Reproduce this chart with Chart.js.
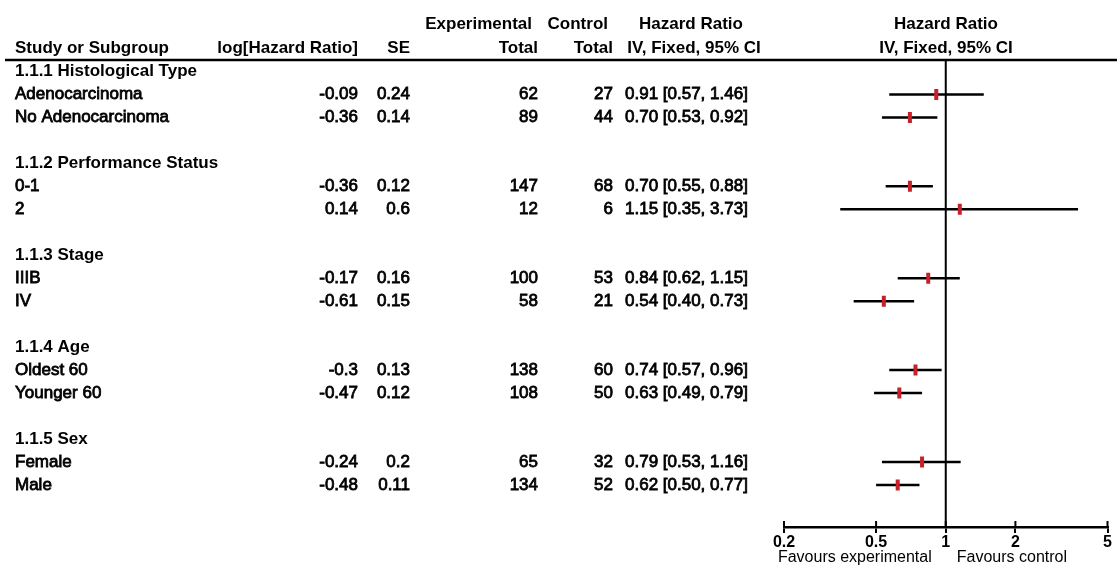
<!DOCTYPE html>
<html lang="en">
<head>
  <title>Hazard Ratio forest plot</title>
  <script src="https://cdn.jsdelivr.net/npm/chart.js"></script>
  <style>
    body { margin: 0; background: #fff; }
    .chart-container { position: relative; width: 1117px; height: 568px; }
  </style>
</head>
<body>
  <div class="chart-container">
    <canvas id="forestChart"></canvas>
  </div>

  <script>
    // Data
    const groups = ['1.1.1 Histological Type', '1.1.2 Performance Status', '1.1.3 Stage', '1.1.4 Age', '1.1.5 Sex'];
    const subgroups = ['Adenocarcinoma', 'No Adenocarcinoma', '0-1', '2', 'IIIB', 'IV', 'Oldest 60', 'Younger 60', 'Female', 'Male'];
    const groupOf = [0, 0, 1, 1, 2, 2, 3, 3, 4, 4];
    const logHR = [-0.09, -0.36, -0.36, 0.14, -0.17, -0.61, -0.3, -0.47, -0.24, -0.48];
    const se = [0.24, 0.14, 0.12, 0.6, 0.16, 0.15, 0.13, 0.12, 0.2, 0.11];
    const expTotal = [62, 89, 147, 12, 100, 58, 138, 108, 65, 134];
    const ctrlTotal = [27, 44, 68, 6, 53, 21, 60, 50, 32, 52];
    const hr = [0.91, 0.70, 0.70, 1.15, 0.84, 0.54, 0.74, 0.63, 0.79, 0.62];
    const ciLow = [0.57, 0.53, 0.55, 0.35, 0.62, 0.40, 0.57, 0.49, 0.53, 0.50];
    const ciHigh = [1.46, 0.92, 0.88, 3.73, 1.15, 0.73, 0.96, 0.79, 1.16, 0.77];
    const xTicks = [0.2, 0.5, 1, 2, 5];

    // row index of each line in the table (group header, then its subgroups, then a blank line)
    const subRow = subgroups.map((s, i) => groupOf[i] * 4 + 1 + (i > 0 && groupOf[i - 1] === groupOf[i] ? 1 : 0));
    const groupRow = groups.map((g, i) => i * 4);

    const BOLD = 'bold 17px "Liberation Sans", Arial, sans-serif';
    const NORMAL = '17px "Liberation Sans", Arial, sans-serif';
    const FAV = '16px "Liberation Sans", Arial, sans-serif';

    function txt(ctx, s, x, y, align, font) {
      ctx.font = font;
      ctx.textAlign = align;
      ctx.fillText(s, x, y);
      if (font === NORMAL) {
        // the scanned original is heavier than a plain regular face
        ctx.lineWidth = 0.8;
        ctx.strokeText(s, x, y);
      }
    }

    const tablePlugin = {
      id: 'forestTable',
      beforeDatasetsDraw(chart) {
        const ctx = chart.ctx;
        const xs = chart.scales.x;
        const area = chart.chartArea;
        ctx.save();
        ctx.strokeStyle = '#000';
        // header rule
        ctx.lineWidth = 2.5;
        ctx.beginPath();
        ctx.moveTo(5, area.top);
        ctx.lineTo(chart.width, area.top);
        ctx.stroke();
        // line of no effect
        const x1 = xs.getPixelForValue(1);
        ctx.lineWidth = 2;
        ctx.beginPath();
        ctx.moveTo(x1, area.top);
        ctx.lineTo(x1, area.bottom);
        ctx.stroke();
        // upper half of the axis ticks
        xTicks.forEach(v => {
          const px = xs.getPixelForValue(v);
          ctx.beginPath();
          ctx.moveTo(px, area.bottom - 6);
          ctx.lineTo(px, area.bottom);
          ctx.stroke();
        });
        ctx.restore();
      },
      afterDraw(chart) {
        const ctx = chart.ctx;
        const ys = chart.scales.y;
        const xs = chart.scales.x;
        ctx.save();
        ctx.fillStyle = '#000';
        ctx.strokeStyle = '#000';
        ctx.textBaseline = 'middle';

        // column headers
        txt(ctx, 'Experimental', 532, 24, 'right', BOLD);
        txt(ctx, 'Control', 608, 24, 'right', BOLD);
        txt(ctx, 'Hazard Ratio', 691, 24, 'center', BOLD);
        txt(ctx, 'Hazard Ratio', 946, 24, 'center', BOLD);
        txt(ctx, 'Study or Subgroup', 15, 48, 'left', BOLD);
        txt(ctx, 'log[Hazard Ratio]', 358, 48, 'right', BOLD);
        txt(ctx, 'SE', 410, 48, 'right', BOLD);
        txt(ctx, 'Total', 538, 48, 'right', BOLD);
        txt(ctx, 'Total', 613, 48, 'right', BOLD);
        txt(ctx, 'IV, Fixed, 95% CI', 694, 48, 'center', BOLD);
        txt(ctx, 'IV, Fixed, 95% CI', 946, 48, 'center', BOLD);

        groups.forEach((g, i) => {
          txt(ctx, g, 15, ys.getPixelForValue(groupRow[i]), 'left', BOLD);
        });

        subgroups.forEach((s, i) => {
          const y = ys.getPixelForValue(subRow[i]);
          txt(ctx, s, 15, y, 'left', NORMAL);
          txt(ctx, String(logHR[i]), 358, y, 'right', NORMAL);
          txt(ctx, String(se[i]), 410, y, 'right', NORMAL);
          txt(ctx, String(expTotal[i]), 538, y, 'right', NORMAL);
          txt(ctx, String(ctrlTotal[i]), 613, y, 'right', NORMAL);
          const ci = hr[i].toFixed(2) + ' [' + ciLow[i].toFixed(2) + ', ' + ciHigh[i].toFixed(2) + ']';
          txt(ctx, ci, 625, y, 'left', NORMAL);
        });

        // favours labels
        const x1 = xs.getPixelForValue(1);
        txt(ctx, 'Favours experimental', x1 - 14, 558, 'right', FAV);
        txt(ctx, 'Favours control', x1 + 11, 558, 'left', FAV);
        ctx.restore();
      }
    };

    const ciDatasets = subgroups.map((s, i) => ({
      type: 'scatter',
      label: s + ' CI',
      data: [{ x: ciLow[i], y: subRow[i] }, { x: ciHigh[i], y: subRow[i] }],
      showLine: true,
      borderColor: '#000',
      borderWidth: 2.5,
      pointRadius: 0,
      order: 2
    }));

    const pointDataset = {
      type: 'scatter',
      label: 'Hazard Ratio',
      data: subgroups.map((s, i) => ({ x: hr[i], y: subRow[i] })),
      pointStyle: 'line',
      rotation: 90,
      pointRadius: 5.5,
      borderColor: '#c8202a',
      borderWidth: 4,
      order: 1
    };

    new Chart(document.getElementById('forestChart'), {
      type: 'scatter',
      data: { datasets: [pointDataset, ...ciDatasets] },
      options: {
        responsive: true,
        maintainAspectRatio: false,
        animation: false,
        layout: { padding: { left: 784, right: 8, top: 60, bottom: 0 } },
        plugins: { legend: { display: false }, tooltip: { enabled: false } },
        scales: {
          x: {
            type: 'logarithmic',
            min: 0.2,
            max: 5,
            afterBuildTicks: scale => { scale.ticks = xTicks.map(v => ({ value: v })); },
            afterFit: scale => { scale.height = 41; },
            border: { display: true, color: '#000', width: 2.5 },
            grid: { display: true, drawOnChartArea: false, drawTicks: true, tickLength: 6, color: '#000', lineWidth: 2 },
            ticks: {
              padding: 0,
              color: '#000',
              maxRotation: 0,
              autoSkip: false,
              font: { family: '"Liberation Sans", Arial, sans-serif', size: 16, weight: 'bold' },
              callback: v => String(v)
            }
          },
          y: {
            type: 'linear',
            display: false,
            reverse: true,
            min: -0.5,
            max: 19.83
          }
        }
      },
      plugins: [tablePlugin]
    });
  </script>
</body>
</html>
